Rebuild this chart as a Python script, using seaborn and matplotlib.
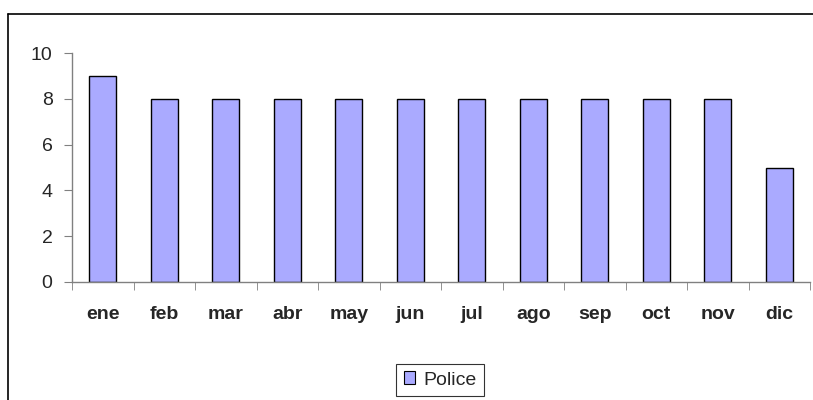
import pandas as pd
import matplotlib
matplotlib.use('Agg')
import matplotlib.pyplot as plt
import seaborn as sns
from matplotlib.patches import Patch
from matplotlib.lines import Line2D

months = ['ene', 'feb', 'mar', 'abr', 'may', 'jun', 'jul', 'ago', 'sep', 'oct', 'nov', 'dic']
police = [9, 8, 8, 8, 8, 8, 8, 8, 8, 8, 8, 5]
series_name = 'Police'

sns.set_style('white')
plt.rcParams['font.family'] = ['Liberation Sans', 'DejaVu Sans']

df = pd.DataFrame({'mes': months, 'valor': police})

fig = plt.figure(figsize=(8.13, 4.0), dpi=100)
ax = fig.add_axes([72 / 813, 118 / 400, (810 - 72) / 813, (282 - 53) / 400])

bar_color = '#AAAAFF'
sns.barplot(data=df, x='mes', y='valor', color=bar_color, width=0.44,
            edgecolor='black', linewidth=1, saturation=1, ax=ax)

ax.set_xlim(-0.5, len(months) - 0.5)
ax.set_ylim(0, 10)
ax.set_yticks([0, 2, 4, 6, 8, 10])
ax.set_xlabel('')
ax.set_ylabel('')

# ejes estilo Excel
for side in ['top', 'right']:
    ax.spines[side].set_visible(False)
for side in ['left', 'bottom']:
    ax.spines[side].set_color('#808080')
    ax.spines[side].set_linewidth(1)

ax.tick_params(axis='y', which='major', direction='out', length=6, color='#808080',
               labelsize=14, pad=8, left=True)
ax.tick_params(axis='x', which='major', length=0, labelsize=14, pad=17)
ax.set_xticks([i - 0.5 for i in range(len(months) + 1)], minor=True)
ax.tick_params(axis='x', which='minor', direction='out', length=6, color='#808080', bottom=True)
for lbl in ax.get_xticklabels():
    lbl.set_fontweight('bold')

# leyenda
handle = Patch(facecolor=bar_color, edgecolor='black', linewidth=0.8)
leg = fig.legend([handle], [series_name], loc='center', bbox_to_anchor=(440 / 813, 20 / 400),
                 frameon=True, fancybox=False, fontsize=14, handlelength=0.6, handleheight=0.6,
                 handletextpad=0.4, borderpad=0.4, edgecolor='black')
leg.get_frame().set_linewidth(0.8)

# marco del gráfico (solo borde superior e izquierdo visibles)
x0, y0 = 8 / 813, 386 / 400
fig.add_artist(Line2D([x0, 1.0], [y0, y0], transform=fig.transFigure, color='black', linewidth=1.2))
fig.add_artist(Line2D([x0, x0], [0.0, y0], transform=fig.transFigure, color='black', linewidth=1.2))

fig.savefig('out.png', dpi=100)
